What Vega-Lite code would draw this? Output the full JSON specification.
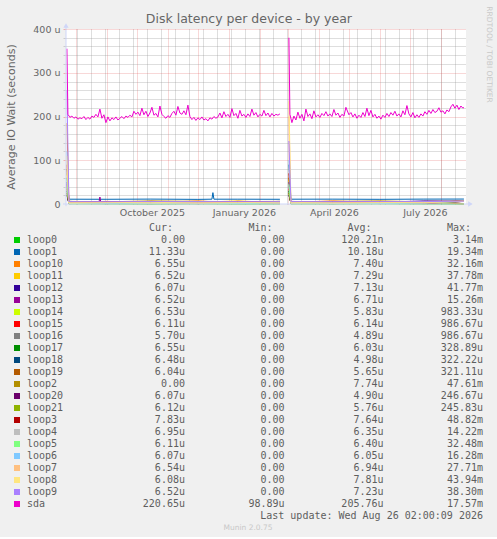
{
  "$schema": "https://vega.github.io/schema/vega-lite/v6.json",
  "background": "#f0f0f0",
  "padding": {"left": 5, "right": 5, "top": 5, "bottom": 3},
  "title": {"text": "Disk latency per device - by year", "fontSize": 12.5, "font": "DejaVu Sans", "fontWeight": "normal", "color": "#666666", "anchor": "middle", "offset": -20},
  "spacing": 5,
  "datasets": {
    "series": [
      {"s":"loop0","t":"2025-07-23","v":40},{"s":"loop0","t":"2025-07-25","v":0.5},{"s":"loop0","t":"2025-09-01","v":0.3},{"s":"loop0","t":"2025-10-15","v":0},{"s":"loop0","t":"2025-12-01","v":0.4},{"s":"loop0","t":"2026-01-10","v":0},{"s":"loop0","t":"2026-02-21","v":0.2},{"s":"loop0","t":"2026-02-25","v":null},{"s":"loop0","t":"2026-03-02","v":30},{"s":"loop0","t":"2026-03-04","v":0.3},{"s":"loop0","t":"2026-04-15","v":0.2},{"s":"loop0","t":"2026-06-01","v":0.5},{"s":"loop0","t":"2026-07-15","v":0.1},{"s":"loop0","t":"2026-08-24","v":0},
      {"s":"loop1","t":"2025-07-23","v":60},{"s":"loop1","t":"2025-07-25","v":11},{"s":"loop1","t":"2025-09-01","v":10.8},{"s":"loop1","t":"2025-10-15","v":11.2},{"s":"loop1","t":"2025-12-01","v":10.6},{"s":"loop1","t":"2025-12-15","v":11},{"s":"loop1","t":"2025-12-16","v":26},{"s":"loop1","t":"2025-12-17","v":11},{"s":"loop1","t":"2026-01-10","v":11},{"s":"loop1","t":"2026-02-21","v":10.8},{"s":"loop1","t":"2026-02-25","v":null},{"s":"loop1","t":"2026-03-02","v":90},{"s":"loop1","t":"2026-03-04","v":11},{"s":"loop1","t":"2026-04-15","v":11.1},{"s":"loop1","t":"2026-06-01","v":10.7},{"s":"loop1","t":"2026-07-15","v":11.2},{"s":"loop1","t":"2026-08-24","v":11.3},
      {"s":"loop10","t":"2025-07-23","v":185},{"s":"loop10","t":"2025-07-25","v":4},{"s":"loop10","t":"2025-09-01","v":6},{"s":"loop10","t":"2025-10-15","v":3},{"s":"loop10","t":"2025-12-01","v":7},{"s":"loop10","t":"2026-01-10","v":2},{"s":"loop10","t":"2026-02-21","v":5},{"s":"loop10","t":"2026-02-25","v":null},{"s":"loop10","t":"2026-03-02","v":60},{"s":"loop10","t":"2026-03-04","v":4},{"s":"loop10","t":"2026-04-15","v":7},{"s":"loop10","t":"2026-06-01","v":3},{"s":"loop10","t":"2026-07-15","v":6},{"s":"loop10","t":"2026-08-24","v":6.55},
      {"s":"loop11","t":"2025-07-23","v":70},{"s":"loop11","t":"2025-07-25","v":3},{"s":"loop11","t":"2025-09-01","v":2},{"s":"loop11","t":"2025-10-15","v":6},{"s":"loop11","t":"2025-12-01","v":4},{"s":"loop11","t":"2026-01-10","v":7},{"s":"loop11","t":"2026-02-21","v":3},{"s":"loop11","t":"2026-02-25","v":null},{"s":"loop11","t":"2026-03-02","v":55},{"s":"loop11","t":"2026-03-04","v":5},{"s":"loop11","t":"2026-04-15","v":3},{"s":"loop11","t":"2026-06-01","v":6},{"s":"loop11","t":"2026-07-15","v":4},{"s":"loop11","t":"2026-08-24","v":6.5},
      {"s":"loop12","t":"2025-07-23","v":50},{"s":"loop12","t":"2025-07-25","v":6},{"s":"loop12","t":"2025-09-01","v":3},{"s":"loop12","t":"2025-10-15","v":2},{"s":"loop12","t":"2025-12-01","v":5},{"s":"loop12","t":"2026-01-10","v":3},{"s":"loop12","t":"2026-02-21","v":6},{"s":"loop12","t":"2026-02-25","v":null},{"s":"loop12","t":"2026-03-02","v":50},{"s":"loop12","t":"2026-03-04","v":2},{"s":"loop12","t":"2026-04-15","v":5},{"s":"loop12","t":"2026-06-01","v":4},{"s":"loop12","t":"2026-07-15","v":7},{"s":"loop12","t":"2026-08-24","v":6.1},
      {"s":"loop13","t":"2025-07-23","v":45},{"s":"loop13","t":"2025-07-25","v":2},{"s":"loop13","t":"2025-08-24","v":3},{"s":"loop13","t":"2025-08-25","v":16},{"s":"loop13","t":"2025-08-26","v":3},{"s":"loop13","t":"2025-09-01","v":4},{"s":"loop13","t":"2025-10-15","v":6},{"s":"loop13","t":"2025-12-01","v":3},{"s":"loop13","t":"2026-01-10","v":5},{"s":"loop13","t":"2026-02-21","v":2},{"s":"loop13","t":"2026-02-25","v":null},{"s":"loop13","t":"2026-03-02","v":40},{"s":"loop13","t":"2026-03-04","v":6},{"s":"loop13","t":"2026-04-15","v":3},{"s":"loop13","t":"2026-06-01","v":5},{"s":"loop13","t":"2026-07-15","v":2},{"s":"loop13","t":"2026-08-24","v":6.5},
      {"s":"loop14","t":"2025-07-23","v":30},{"s":"loop14","t":"2025-07-25","v":1},{"s":"loop14","t":"2025-09-01","v":3},{"s":"loop14","t":"2025-10-15","v":2},{"s":"loop14","t":"2025-12-01","v":4},{"s":"loop14","t":"2026-01-10","v":1},{"s":"loop14","t":"2026-02-21","v":3},{"s":"loop14","t":"2026-02-25","v":null},{"s":"loop14","t":"2026-03-02","v":30},{"s":"loop14","t":"2026-03-04","v":2},{"s":"loop14","t":"2026-04-15","v":4},{"s":"loop14","t":"2026-06-01","v":1},{"s":"loop14","t":"2026-07-15","v":3},{"s":"loop14","t":"2026-08-24","v":6.5},
      {"s":"loop15","t":"2025-07-23","v":35},{"s":"loop15","t":"2025-07-25","v":3},{"s":"loop15","t":"2025-09-01","v":1},{"s":"loop15","t":"2025-10-15","v":4},{"s":"loop15","t":"2025-12-01","v":2},{"s":"loop15","t":"2026-01-10","v":3},{"s":"loop15","t":"2026-02-21","v":1},{"s":"loop15","t":"2026-02-25","v":null},{"s":"loop15","t":"2026-03-02","v":35},{"s":"loop15","t":"2026-03-04","v":3},{"s":"loop15","t":"2026-04-15","v":2},{"s":"loop15","t":"2026-06-01","v":4},{"s":"loop15","t":"2026-07-15","v":1},{"s":"loop15","t":"2026-08-24","v":6.1},
      {"s":"loop16","t":"2025-07-23","v":25},{"s":"loop16","t":"2025-07-25","v":1},{"s":"loop16","t":"2025-09-01","v":2},{"s":"loop16","t":"2025-10-15","v":1},{"s":"loop16","t":"2025-12-01","v":3},{"s":"loop16","t":"2026-01-10","v":2},{"s":"loop16","t":"2026-02-21","v":1},{"s":"loop16","t":"2026-02-25","v":null},{"s":"loop16","t":"2026-03-02","v":25},{"s":"loop16","t":"2026-03-04","v":1},{"s":"loop16","t":"2026-04-15","v":2},{"s":"loop16","t":"2026-06-01","v":3},{"s":"loop16","t":"2026-07-15","v":2},{"s":"loop16","t":"2026-08-24","v":5.7},
      {"s":"loop17","t":"2025-07-23","v":20},{"s":"loop17","t":"2025-07-25","v":2},{"s":"loop17","t":"2025-09-01","v":1},{"s":"loop17","t":"2025-10-15","v":3},{"s":"loop17","t":"2025-12-01","v":1},{"s":"loop17","t":"2026-01-10","v":2},{"s":"loop17","t":"2026-02-21","v":4},{"s":"loop17","t":"2026-02-25","v":null},{"s":"loop17","t":"2026-03-02","v":20},{"s":"loop17","t":"2026-03-04","v":3},{"s":"loop17","t":"2026-04-15","v":1},{"s":"loop17","t":"2026-06-01","v":2},{"s":"loop17","t":"2026-07-15","v":3},{"s":"loop17","t":"2026-08-24","v":6.5},
      {"s":"loop18","t":"2025-07-23","v":30},{"s":"loop18","t":"2025-07-25","v":4},{"s":"loop18","t":"2025-09-01","v":2},{"s":"loop18","t":"2025-10-15","v":5},{"s":"loop18","t":"2025-12-01","v":1},{"s":"loop18","t":"2026-01-10","v":3},{"s":"loop18","t":"2026-02-21","v":2},{"s":"loop18","t":"2026-02-25","v":null},{"s":"loop18","t":"2026-03-02","v":30},{"s":"loop18","t":"2026-03-04","v":2},{"s":"loop18","t":"2026-04-15","v":4},{"s":"loop18","t":"2026-06-01","v":1},{"s":"loop18","t":"2026-07-15","v":5},{"s":"loop18","t":"2026-08-24","v":6.5},
      {"s":"loop19","t":"2025-07-23","v":25},{"s":"loop19","t":"2025-07-25","v":2},{"s":"loop19","t":"2025-09-01","v":4},{"s":"loop19","t":"2025-10-15","v":1},{"s":"loop19","t":"2025-12-01","v":3},{"s":"loop19","t":"2026-01-10","v":5},{"s":"loop19","t":"2026-02-21","v":2},{"s":"loop19","t":"2026-02-25","v":null},{"s":"loop19","t":"2026-03-02","v":25},{"s":"loop19","t":"2026-03-04","v":4},{"s":"loop19","t":"2026-04-15","v":2},{"s":"loop19","t":"2026-06-01","v":3},{"s":"loop19","t":"2026-07-15","v":1},{"s":"loop19","t":"2026-08-24","v":6},
      {"s":"loop2","t":"2025-07-23","v":80},{"s":"loop2","t":"2025-07-25","v":6},{"s":"loop2","t":"2025-09-01","v":5},{"s":"loop2","t":"2025-10-15","v":7},{"s":"loop2","t":"2025-12-01","v":6},{"s":"loop2","t":"2026-01-10","v":5.5},{"s":"loop2","t":"2026-02-21","v":6},{"s":"loop2","t":"2026-02-25","v":null},{"s":"loop2","t":"2026-03-02","v":60},{"s":"loop2","t":"2026-03-04","v":5},{"s":"loop2","t":"2026-04-15","v":6},{"s":"loop2","t":"2026-06-01","v":7},{"s":"loop2","t":"2026-07-15","v":5},{"s":"loop2","t":"2026-08-24","v":0},
      {"s":"loop20","t":"2025-07-23","v":20},{"s":"loop20","t":"2025-07-25","v":1},{"s":"loop20","t":"2025-09-01","v":3},{"s":"loop20","t":"2025-10-15","v":2},{"s":"loop20","t":"2025-12-01","v":1},{"s":"loop20","t":"2026-01-10","v":3},{"s":"loop20","t":"2026-02-21","v":2},{"s":"loop20","t":"2026-02-25","v":null},{"s":"loop20","t":"2026-03-02","v":20},{"s":"loop20","t":"2026-03-04","v":2},{"s":"loop20","t":"2026-04-15","v":1},{"s":"loop20","t":"2026-06-01","v":3},{"s":"loop20","t":"2026-07-15","v":2},{"s":"loop20","t":"2026-08-24","v":6},
      {"s":"loop21","t":"2025-07-23","v":25},{"s":"loop21","t":"2025-07-25","v":3},{"s":"loop21","t":"2025-09-01","v":2},{"s":"loop21","t":"2025-10-15","v":1},{"s":"loop21","t":"2025-12-01","v":4},{"s":"loop21","t":"2026-01-10","v":2},{"s":"loop21","t":"2026-02-21","v":3},{"s":"loop21","t":"2026-02-25","v":null},{"s":"loop21","t":"2026-03-02","v":25},{"s":"loop21","t":"2026-03-04","v":1},{"s":"loop21","t":"2026-04-15","v":3},{"s":"loop21","t":"2026-06-01","v":2},{"s":"loop21","t":"2026-07-15","v":4},{"s":"loop21","t":"2026-08-24","v":6.1},
      {"s":"loop3","t":"2025-07-23","v":90},{"s":"loop3","t":"2025-07-25","v":3},{"s":"loop3","t":"2025-09-01","v":5},{"s":"loop3","t":"2025-10-15","v":4},{"s":"loop3","t":"2025-12-01","v":2},{"s":"loop3","t":"2026-01-10","v":6},{"s":"loop3","t":"2026-02-21","v":4},{"s":"loop3","t":"2026-02-25","v":null},{"s":"loop3","t":"2026-03-02","v":70},{"s":"loop3","t":"2026-03-04","v":3},{"s":"loop3","t":"2026-04-15","v":5},{"s":"loop3","t":"2026-06-01","v":4},{"s":"loop3","t":"2026-07-15","v":2},{"s":"loop3","t":"2026-08-24","v":7.8},
      {"s":"loop4","t":"2025-07-23","v":40},{"s":"loop4","t":"2025-07-25","v":2},{"s":"loop4","t":"2025-09-01","v":3},{"s":"loop4","t":"2025-10-15","v":5},{"s":"loop4","t":"2025-12-01","v":3},{"s":"loop4","t":"2026-01-10","v":2},{"s":"loop4","t":"2026-02-21","v":4},{"s":"loop4","t":"2026-02-25","v":null},{"s":"loop4","t":"2026-03-02","v":40},{"s":"loop4","t":"2026-03-04","v":4},{"s":"loop4","t":"2026-04-15","v":2},{"s":"loop4","t":"2026-06-01","v":3},{"s":"loop4","t":"2026-07-15","v":5},{"s":"loop4","t":"2026-08-24","v":7},
      {"s":"loop5","t":"2025-07-23","v":60},{"s":"loop5","t":"2025-07-25","v":1},{"s":"loop5","t":"2025-09-01","v":2},{"s":"loop5","t":"2025-10-15","v":1},{"s":"loop5","t":"2025-12-01","v":2},{"s":"loop5","t":"2026-01-10","v":1},{"s":"loop5","t":"2026-02-21","v":2},{"s":"loop5","t":"2026-02-25","v":null},{"s":"loop5","t":"2026-03-02","v":45},{"s":"loop5","t":"2026-03-04","v":1},{"s":"loop5","t":"2026-04-15","v":2},{"s":"loop5","t":"2026-06-01","v":1},{"s":"loop5","t":"2026-07-15","v":2},{"s":"loop5","t":"2026-08-24","v":6.1},
      {"s":"loop6","t":"2025-07-23","v":120},{"s":"loop6","t":"2025-07-25","v":4},{"s":"loop6","t":"2025-09-01","v":2},{"s":"loop6","t":"2025-10-15","v":3},{"s":"loop6","t":"2025-12-01","v":5},{"s":"loop6","t":"2026-01-10","v":2},{"s":"loop6","t":"2026-02-21","v":4},{"s":"loop6","t":"2026-02-25","v":null},{"s":"loop6","t":"2026-03-02","v":100},{"s":"loop6","t":"2026-03-04","v":3},{"s":"loop6","t":"2026-04-15","v":4},{"s":"loop6","t":"2026-06-01","v":2},{"s":"loop6","t":"2026-07-15","v":3},{"s":"loop6","t":"2026-08-24","v":6.1},
      {"s":"loop7","t":"2025-07-23","v":100},{"s":"loop7","t":"2025-07-25","v":3},{"s":"loop7","t":"2025-09-01","v":4},{"s":"loop7","t":"2025-10-15","v":2},{"s":"loop7","t":"2025-12-01","v":3},{"s":"loop7","t":"2026-01-10","v":4},{"s":"loop7","t":"2026-02-21","v":2},{"s":"loop7","t":"2026-02-25","v":null},{"s":"loop7","t":"2026-03-02","v":200},{"s":"loop7","t":"2026-03-04","v":2},{"s":"loop7","t":"2026-04-15","v":3},{"s":"loop7","t":"2026-06-01","v":4},{"s":"loop7","t":"2026-07-15","v":3},{"s":"loop7","t":"2026-08-24","v":6.5},
      {"s":"loop8","t":"2025-07-23","v":110},{"s":"loop8","t":"2025-07-25","v":2},{"s":"loop8","t":"2025-09-01","v":3},{"s":"loop8","t":"2025-10-15","v":4},{"s":"loop8","t":"2025-12-01","v":2},{"s":"loop8","t":"2026-01-10","v":3},{"s":"loop8","t":"2026-02-21","v":4},{"s":"loop8","t":"2026-02-25","v":null},{"s":"loop8","t":"2026-03-02","v":235},{"s":"loop8","t":"2026-03-04","v":4},{"s":"loop8","t":"2026-04-15","v":2},{"s":"loop8","t":"2026-06-01","v":3},{"s":"loop8","t":"2026-07-15","v":4},{"s":"loop8","t":"2026-08-24","v":6.1},
      {"s":"loop9","t":"2025-07-23","v":260},{"s":"loop9","t":"2025-07-25","v":5.5},{"s":"loop9","t":"2025-09-01","v":5.3},{"s":"loop9","t":"2025-10-15","v":5.6},{"s":"loop9","t":"2025-12-01","v":5.4},{"s":"loop9","t":"2026-01-10","v":5.5},{"s":"loop9","t":"2026-02-21","v":5.3},{"s":"loop9","t":"2026-02-25","v":null},{"s":"loop9","t":"2026-03-02","v":144},{"s":"loop9","t":"2026-03-04","v":5.5},{"s":"loop9","t":"2026-04-15","v":5.4},{"s":"loop9","t":"2026-06-01","v":5.6},{"s":"loop9","t":"2026-07-15","v":5.5},{"s":"loop9","t":"2026-08-24","v":6.5},
      {"s":"sda","t":"2025-07-23","v":355},{"s":"sda","t":"2025-07-24","v":205},{"s":"sda","t":"2025-07-26","v":198},{"s":"sda","t":"2025-07-28","v":201},{"s":"sda","t":"2025-07-30","v":196},
      {"s":"sda","t":"2025-08-01","v":199},{"s":"sda","t":"2025-08-03","v":194},{"s":"sda","t":"2025-08-05","v":197},{"s":"sda","t":"2025-08-07","v":195},{"s":"sda","t":"2025-08-09","v":200},{"s":"sda","t":"2025-08-11","v":193},{"s":"sda","t":"2025-08-13","v":198},{"s":"sda","t":"2025-08-15","v":194},{"s":"sda","t":"2025-08-17","v":201},{"s":"sda","t":"2025-08-19","v":198},{"s":"sda","t":"2025-08-21","v":205},{"s":"sda","t":"2025-08-23","v":199},{"s":"sda","t":"2025-08-25","v":217},{"s":"sda","t":"2025-08-27","v":196},{"s":"sda","t":"2025-08-29","v":204},{"s":"sda","t":"2025-08-31","v":186},
      {"s":"sda","t":"2025-09-02","v":199},{"s":"sda","t":"2025-09-04","v":190},{"s":"sda","t":"2025-09-06","v":197},{"s":"sda","t":"2025-09-08","v":193},{"s":"sda","t":"2025-09-10","v":199},{"s":"sda","t":"2025-09-12","v":192},{"s":"sda","t":"2025-09-14","v":196},{"s":"sda","t":"2025-09-16","v":200},{"s":"sda","t":"2025-09-18","v":195},{"s":"sda","t":"2025-09-20","v":201},{"s":"sda","t":"2025-09-22","v":198},{"s":"sda","t":"2025-09-24","v":203},{"s":"sda","t":"2025-09-26","v":199},{"s":"sda","t":"2025-09-28","v":212},{"s":"sda","t":"2025-09-30","v":205},
      {"s":"sda","t":"2025-10-02","v":210},{"s":"sda","t":"2025-10-04","v":202},{"s":"sda","t":"2025-10-06","v":219},{"s":"sda","t":"2025-10-08","v":204},{"s":"sda","t":"2025-10-10","v":212},{"s":"sda","t":"2025-10-12","v":200},{"s":"sda","t":"2025-10-14","v":208},{"s":"sda","t":"2025-10-16","v":221},{"s":"sda","t":"2025-10-18","v":203},{"s":"sda","t":"2025-10-20","v":207},{"s":"sda","t":"2025-10-22","v":199},{"s":"sda","t":"2025-10-24","v":224},{"s":"sda","t":"2025-10-26","v":205},{"s":"sda","t":"2025-10-28","v":200},{"s":"sda","t":"2025-10-30","v":196},
      {"s":"sda","t":"2025-11-01","v":202},{"s":"sda","t":"2025-11-03","v":198},{"s":"sda","t":"2025-11-05","v":207},{"s":"sda","t":"2025-11-07","v":212},{"s":"sda","t":"2025-11-09","v":203},{"s":"sda","t":"2025-11-11","v":223},{"s":"sda","t":"2025-11-13","v":208},{"s":"sda","t":"2025-11-15","v":205},{"s":"sda","t":"2025-11-17","v":213},{"s":"sda","t":"2025-11-19","v":204},{"s":"sda","t":"2025-11-21","v":226},{"s":"sda","t":"2025-11-23","v":200},{"s":"sda","t":"2025-11-25","v":193},{"s":"sda","t":"2025-11-27","v":198},{"s":"sda","t":"2025-11-29","v":191},
      {"s":"sda","t":"2025-12-01","v":197},{"s":"sda","t":"2025-12-03","v":193},{"s":"sda","t":"2025-12-05","v":199},{"s":"sda","t":"2025-12-07","v":192},{"s":"sda","t":"2025-12-09","v":195},{"s":"sda","t":"2025-12-11","v":190},{"s":"sda","t":"2025-12-13","v":197},{"s":"sda","t":"2025-12-15","v":194},{"s":"sda","t":"2025-12-17","v":200},{"s":"sda","t":"2025-12-19","v":196},{"s":"sda","t":"2025-12-21","v":199},{"s":"sda","t":"2025-12-23","v":208},{"s":"sda","t":"2025-12-25","v":197},{"s":"sda","t":"2025-12-27","v":211},{"s":"sda","t":"2025-12-29","v":200},{"s":"sda","t":"2025-12-31","v":205},
      {"s":"sda","t":"2026-01-02","v":198},{"s":"sda","t":"2026-01-04","v":218},{"s":"sda","t":"2026-01-06","v":202},{"s":"sda","t":"2026-01-08","v":207},{"s":"sda","t":"2026-01-10","v":196},{"s":"sda","t":"2026-01-12","v":214},{"s":"sda","t":"2026-01-14","v":201},{"s":"sda","t":"2026-01-16","v":205},{"s":"sda","t":"2026-01-18","v":198},{"s":"sda","t":"2026-01-20","v":206},{"s":"sda","t":"2026-01-22","v":200},{"s":"sda","t":"2026-01-24","v":217},{"s":"sda","t":"2026-01-26","v":203},{"s":"sda","t":"2026-01-28","v":209},{"s":"sda","t":"2026-01-30","v":199},
      {"s":"sda","t":"2026-02-01","v":205},{"s":"sda","t":"2026-02-03","v":201},{"s":"sda","t":"2026-02-05","v":214},{"s":"sda","t":"2026-02-07","v":202},{"s":"sda","t":"2026-02-09","v":208},{"s":"sda","t":"2026-02-11","v":199},{"s":"sda","t":"2026-02-13","v":207},{"s":"sda","t":"2026-02-15","v":201},{"s":"sda","t":"2026-02-17","v":205},{"s":"sda","t":"2026-02-19","v":203},{"s":"sda","t":"2026-02-21","v":206},{"s":"sda","t":"2026-02-25","v":null},
      {"s":"sda","t":"2026-03-02","v":380},{"s":"sda","t":"2026-03-03","v":205},{"s":"sda","t":"2026-03-05","v":186},{"s":"sda","t":"2026-03-07","v":201},{"s":"sda","t":"2026-03-09","v":192},{"s":"sda","t":"2026-03-11","v":210},{"s":"sda","t":"2026-03-13","v":196},{"s":"sda","t":"2026-03-15","v":205},{"s":"sda","t":"2026-03-17","v":190},{"s":"sda","t":"2026-03-19","v":217},{"s":"sda","t":"2026-03-21","v":200},{"s":"sda","t":"2026-03-23","v":206},{"s":"sda","t":"2026-03-25","v":195},{"s":"sda","t":"2026-03-27","v":213},{"s":"sda","t":"2026-03-29","v":199},{"s":"sda","t":"2026-03-31","v":204},
      {"s":"sda","t":"2026-04-02","v":198},{"s":"sda","t":"2026-04-04","v":207},{"s":"sda","t":"2026-04-06","v":202},{"s":"sda","t":"2026-04-08","v":211},{"s":"sda","t":"2026-04-10","v":201},{"s":"sda","t":"2026-04-12","v":206},{"s":"sda","t":"2026-04-14","v":200},{"s":"sda","t":"2026-04-16","v":216},{"s":"sda","t":"2026-04-18","v":203},{"s":"sda","t":"2026-04-20","v":208},{"s":"sda","t":"2026-04-22","v":198},{"s":"sda","t":"2026-04-24","v":205},{"s":"sda","t":"2026-04-26","v":201},{"s":"sda","t":"2026-04-28","v":221},
      {"s":"sda","t":"2026-05-01","v":204},{"s":"sda","t":"2026-05-03","v":209},{"s":"sda","t":"2026-05-05","v":199},{"s":"sda","t":"2026-05-07","v":206},{"s":"sda","t":"2026-05-09","v":196},{"s":"sda","t":"2026-05-11","v":203},{"s":"sda","t":"2026-05-13","v":198},{"s":"sda","t":"2026-05-15","v":209},{"s":"sda","t":"2026-05-17","v":200},{"s":"sda","t":"2026-05-19","v":219},{"s":"sda","t":"2026-05-21","v":202},{"s":"sda","t":"2026-05-23","v":214},{"s":"sda","t":"2026-05-25","v":199},{"s":"sda","t":"2026-05-27","v":205},{"s":"sda","t":"2026-05-29","v":196},{"s":"sda","t":"2026-05-31","v":201},
      {"s":"sda","t":"2026-06-02","v":194},{"s":"sda","t":"2026-06-04","v":203},{"s":"sda","t":"2026-06-06","v":198},{"s":"sda","t":"2026-06-08","v":207},{"s":"sda","t":"2026-06-10","v":200},{"s":"sda","t":"2026-06-12","v":209},{"s":"sda","t":"2026-06-14","v":203},{"s":"sda","t":"2026-06-16","v":212},{"s":"sda","t":"2026-06-18","v":201},{"s":"sda","t":"2026-06-20","v":206},{"s":"sda","t":"2026-06-22","v":199},{"s":"sda","t":"2026-06-24","v":213},{"s":"sda","t":"2026-06-26","v":204},{"s":"sda","t":"2026-06-28","v":225},{"s":"sda","t":"2026-06-30","v":206},
      {"s":"sda","t":"2026-07-02","v":199},{"s":"sda","t":"2026-07-04","v":209},{"s":"sda","t":"2026-07-06","v":197},{"s":"sda","t":"2026-07-08","v":204},{"s":"sda","t":"2026-07-10","v":198},{"s":"sda","t":"2026-07-12","v":206},{"s":"sda","t":"2026-07-14","v":201},{"s":"sda","t":"2026-07-16","v":211},{"s":"sda","t":"2026-07-18","v":205},{"s":"sda","t":"2026-07-20","v":214},{"s":"sda","t":"2026-07-22","v":207},{"s":"sda","t":"2026-07-24","v":216},{"s":"sda","t":"2026-07-26","v":209},{"s":"sda","t":"2026-07-28","v":212},{"s":"sda","t":"2026-07-30","v":220},
      {"s":"sda","t":"2026-08-01","v":210},{"s":"sda","t":"2026-08-03","v":213},{"s":"sda","t":"2026-08-05","v":206},{"s":"sda","t":"2026-08-07","v":215},{"s":"sda","t":"2026-08-09","v":211},{"s":"sda","t":"2026-08-11","v":222},{"s":"sda","t":"2026-08-13","v":228},{"s":"sda","t":"2026-08-15","v":219},{"s":"sda","t":"2026-08-17","v":226},{"s":"sda","t":"2026-08-19","v":216},{"s":"sda","t":"2026-08-21","v":224},{"s":"sda","t":"2026-08-23","v":219},{"s":"sda","t":"2026-08-24","v":221}
    ],
    "legend": [
      {"s":"loop0","cur":"0.00\u00a0","min":"0.00\u00a0","avg":"120.21n","max":"3.14m"},
      {"s":"loop1","cur":"11.33u","min":"0.00\u00a0","avg":"10.18u","max":"19.34m"},
      {"s":"loop10","cur":"6.55u","min":"0.00\u00a0","avg":"7.40u","max":"32.16m"},
      {"s":"loop11","cur":"6.52u","min":"0.00\u00a0","avg":"7.29u","max":"37.78m"},
      {"s":"loop12","cur":"6.07u","min":"0.00\u00a0","avg":"7.13u","max":"41.77m"},
      {"s":"loop13","cur":"6.52u","min":"0.00\u00a0","avg":"6.71u","max":"15.26m"},
      {"s":"loop14","cur":"6.53u","min":"0.00\u00a0","avg":"5.83u","max":"983.33u"},
      {"s":"loop15","cur":"6.11u","min":"0.00\u00a0","avg":"6.14u","max":"986.67u"},
      {"s":"loop16","cur":"5.70u","min":"0.00\u00a0","avg":"4.89u","max":"986.67u"},
      {"s":"loop17","cur":"6.55u","min":"0.00\u00a0","avg":"6.03u","max":"328.89u"},
      {"s":"loop18","cur":"6.48u","min":"0.00\u00a0","avg":"4.98u","max":"322.22u"},
      {"s":"loop19","cur":"6.04u","min":"0.00\u00a0","avg":"5.65u","max":"321.11u"},
      {"s":"loop2","cur":"0.00\u00a0","min":"0.00\u00a0","avg":"7.74u","max":"47.61m"},
      {"s":"loop20","cur":"6.07u","min":"0.00\u00a0","avg":"4.90u","max":"246.67u"},
      {"s":"loop21","cur":"6.12u","min":"0.00\u00a0","avg":"5.76u","max":"245.83u"},
      {"s":"loop3","cur":"7.83u","min":"0.00\u00a0","avg":"7.64u","max":"48.82m"},
      {"s":"loop4","cur":"6.95u","min":"0.00\u00a0","avg":"6.35u","max":"14.22m"},
      {"s":"loop5","cur":"6.11u","min":"0.00\u00a0","avg":"6.40u","max":"32.48m"},
      {"s":"loop6","cur":"6.07u","min":"0.00\u00a0","avg":"6.05u","max":"16.28m"},
      {"s":"loop7","cur":"6.54u","min":"0.00\u00a0","avg":"6.94u","max":"27.71m"},
      {"s":"loop8","cur":"6.08u","min":"0.00\u00a0","avg":"7.81u","max":"43.94m"},
      {"s":"loop9","cur":"6.52u","min":"0.00\u00a0","avg":"7.23u","max":"38.30m"},
      {"s":"sda","cur":"220.65u","min":"98.89u","avg":"205.76u","max":"17.57m"}
    ]
  },
  "vconcat": [
    {
      "width": 400,
      "height": 175,
      "view": {"fill": "#ffffff", "stroke": null},
      "resolve": {"axis": {"x": "independent", "y": "independent"}},
      "layer": [
        {
          "data": {"name": "series"},
          "mark": {"type": "line", "strokeWidth": 1, "invalid": "break-paths-filter-domains"},
          "encoding": {
            "x": {"field": "t", "type": "temporal",
              "scale": {"domain": [{"year": 2025, "month": 7, "date": 22, "hours": 2, "utc": true}, {"year": 2026, "month": 8, "date": 26, "hours": 2, "utc": true}]},
              "axis": {"orient": "bottom", "title": null, "labels": false, "ticks": false, "domain": false, "grid": true, "gridColor": "#8f8f8f", "gridOpacity": 0.6, "gridDash": [1, 1],
                "values": [
                  {"year": 2025, "month": 8, "date": 2, "utc": true}, {"year": 2025, "month": 8, "date": 16, "utc": true}, {"year": 2025, "month": 8, "date": 30, "utc": true},
                  {"year": 2025, "month": 9, "date": 13, "utc": true}, {"year": 2025, "month": 9, "date": 27, "utc": true}, {"year": 2025, "month": 10, "date": 11, "utc": true},
                  {"year": 2025, "month": 10, "date": 25, "utc": true}, {"year": 2025, "month": 11, "date": 8, "utc": true}, {"year": 2025, "month": 11, "date": 22, "utc": true},
                  {"year": 2025, "month": 12, "date": 6, "utc": true}, {"year": 2025, "month": 12, "date": 20, "utc": true}, {"year": 2026, "month": 1, "date": 3, "utc": true},
                  {"year": 2026, "month": 1, "date": 17, "utc": true}, {"year": 2026, "month": 1, "date": 31, "utc": true}, {"year": 2026, "month": 2, "date": 14, "utc": true},
                  {"year": 2026, "month": 2, "date": 28, "utc": true}, {"year": 2026, "month": 3, "date": 14, "utc": true}, {"year": 2026, "month": 3, "date": 28, "utc": true},
                  {"year": 2026, "month": 4, "date": 11, "utc": true}, {"year": 2026, "month": 4, "date": 25, "utc": true}, {"year": 2026, "month": 5, "date": 9, "utc": true},
                  {"year": 2026, "month": 5, "date": 23, "utc": true}, {"year": 2026, "month": 6, "date": 6, "utc": true}, {"year": 2026, "month": 6, "date": 20, "utc": true},
                  {"year": 2026, "month": 7, "date": 4, "utc": true}, {"year": 2026, "month": 7, "date": 18, "utc": true}, {"year": 2026, "month": 8, "date": 1, "utc": true},
                  {"year": 2026, "month": 8, "date": 15, "utc": true}
                ]}},
            "y": {"field": "v", "type": "quantitative",
              "scale": {"domain": [0, 400], "nice": false},
              "axis": {"orient": "left", "title": null, "labels": false, "ticks": true, "tickSize": 3, "tickColor": "#cccccc", "domain": false, "grid": true, "gridColor": "#8f8f8f", "gridOpacity": 0.6, "gridDash": [1, 1],
                "values": [20, 40, 60, 80, 120, 140, 160, 180, 220, 240, 260, 280, 320, 340, 360, 380]}},
            "color": {"field": "s", "type": "nominal", "legend": null,
              "scale": {"domain": ["loop0","loop1","loop10","loop11","loop12","loop13","loop14","loop15","loop16","loop17","loop18","loop19","loop2","loop20","loop21","loop3","loop4","loop5","loop6","loop7","loop8","loop9","sda"],
                "range": ["#00cc00","#0066b3","#ff8000","#ffcc00","#330099","#990099","#ccff00","#ff0000","#808080","#008f00","#00487d","#b35a00","#b38f00","#6b006b","#8fb300","#b30000","#bebebe","#80ff80","#80c9ff","#ffc080","#ffe680","#aa80ff","#ee00cc"]}}
          }
        },
        {
          "data": {"values": []},
          "mark": "rule",
          "encoding": {
            "x": {"field": "t", "type": "temporal",
              "axis": {"orient": "bottom", "title": null, "labels": false, "ticks": false, "domain": false, "grid": true, "gridColor": "#de4f4f", "gridOpacity": 0.45, "gridDash": [1, 1],
                "values": [
                  {"year": 2025, "month": 8, "date": 1, "utc": true}, {"year": 2025, "month": 9, "date": 1, "utc": true}, {"year": 2025, "month": 10, "date": 1, "utc": true},
                  {"year": 2025, "month": 11, "date": 1, "utc": true}, {"year": 2025, "month": 12, "date": 1, "utc": true}, {"year": 2026, "month": 1, "date": 1, "utc": true},
                  {"year": 2026, "month": 2, "date": 1, "utc": true}, {"year": 2026, "month": 3, "date": 1, "utc": true}, {"year": 2026, "month": 4, "date": 1, "utc": true},
                  {"year": 2026, "month": 5, "date": 1, "utc": true}, {"year": 2026, "month": 6, "date": 1, "utc": true}, {"year": 2026, "month": 7, "date": 1, "utc": true},
                  {"year": 2026, "month": 8, "date": 1, "utc": true}
                ]}},
            "y": {"field": "v", "type": "quantitative",
              "axis": {"orient": "left", "title": null, "labels": false, "ticks": true, "tickSize": 3, "tickColor": "#eeb0b0", "domain": false, "grid": true, "gridColor": "#de4f4f", "gridOpacity": 0.45, "gridDash": [1, 1],
                "values": [100, 200, 300, 400]}}
          }
        },
        {
          "data": {"values": []},
          "mark": "rule",
          "encoding": {
            "x": {"field": "t", "type": "temporal",
              "axis": {"orient": "bottom", "title": null, "format": "%B %Y", "ticks": false, "domain": false, "grid": false, "labelPadding": 3, "labelFontSize": 9.5, "labelColor": "#666666", "labelOverlap": false, "labelFlush": false,
                "values": [
                  {"year": 2025, "month": 10, "date": 16, "utc": true}, {"year": 2026, "month": 1, "date": 16, "utc": true},
                  {"year": 2026, "month": 4, "date": 16, "utc": true}, {"year": 2026, "month": 7, "date": 16, "utc": true}
                ]}},
            "y": {"field": "v", "type": "quantitative",
              "axis": {"orient": "left", "title": "Average IO Wait (seconds)", "titleFontSize": 11, "titleFontWeight": "normal", "titleColor": "#666666", "titlePadding": 16,
                "labelExpr": "datum.value == 0 ? '0' : datum.value + ' u'", "ticks": false, "domain": false, "grid": false, "labelPadding": 6, "labelFontSize": 9.5, "labelColor": "#666666", "labelFlush": false,
                "values": [0, 100, 200, 300, 400]}}
          }
        },
        {
          "data": {"values": []},
          "mark": "rule",
          "encoding": {
            "y": {"field": "v", "type": "quantitative",
              "axis": {"orient": "right", "title": "RRDTOOL / TOBI OETIKER", "labels": false, "ticks": false, "domain": false, "grid": false,
                "titleFontSize": 7.5, "titleFontWeight": "normal", "titleColor": "#c8c8c8", "titleAngle": 90, "titleAlign": "center", "titleBaseline": "middle", "titleX": 22, "titleY": 25}}
          }
        },
        {
          "data": {"values": [{}]},
          "mark": {"type": "rule", "color": "#cfd6f8", "strokeWidth": 1},
          "encoding": {
            "x": {"datum": {"year": 2025, "month": 7, "date": 22, "hours": 2, "utc": true}, "type": "temporal", "axis": null},
            "y": {"datum": -5, "type": "quantitative", "axis": null},
            "y2": {"datum": 405}
          }
        },
        {
          "data": {"values": [{}]},
          "mark": {"type": "rule", "color": "#cfd6f8", "strokeWidth": 1},
          "encoding": {
            "x": {"datum": {"year": 2025, "month": 7, "date": 19, "hours": 2, "utc": true}, "type": "temporal", "axis": null},
            "x2": {"datum": {"year": 2026, "month": 8, "date": 29, "utc": true}},
            "y": {"datum": 0, "type": "quantitative", "axis": null}
          }
        },
        {
          "data": {"values": [{}]},
          "mark": {"type": "point", "shape": "triangle-up", "filled": true, "size": 28, "color": "#cfd6f8", "opacity": 1},
          "encoding": {
            "x": {"datum": {"year": 2025, "month": 7, "date": 22, "hours": 2, "utc": true}, "type": "temporal", "axis": null},
            "y": {"datum": 408, "type": "quantitative", "axis": null}
          }
        },
        {
          "data": {"values": [{}]},
          "mark": {"type": "point", "shape": "triangle-right", "filled": true, "size": 28, "color": "#cfd6f8", "opacity": 1},
          "encoding": {
            "x": {"datum": {"year": 2026, "month": 8, "date": 30, "hours": 12, "utc": true}, "type": "temporal", "axis": null},
            "y": {"datum": 0, "type": "quantitative", "axis": null}
          }
        }
      ]
    },
    {
      "width": 402,
      "height": {"step": 12},
      "data": {"name": "legend"},
      "encoding": {
        "y": {"field": "s", "type": "nominal", "axis": null,
          "scale": {"type": "point", "padding": 0.5, "domain": ["hdr","loop0","loop1","loop10","loop11","loop12","loop13","loop14","loop15","loop16","loop17","loop18","loop19","loop2","loop20","loop21","loop3","loop4","loop5","loop6","loop7","loop8","loop9","sda","upd","munin"]}}
      },
      "layer": [
        {
          "mark": {"type": "point", "shape": "square", "filled": true, "size": 36, "opacity": 1},
          "encoding": {
            "x": {"datum": -8.17, "type": "quantitative", "scale": {"domain": [0, 67], "nice": false, "zero": false}, "axis": null},
            "color": {"field": "s", "type": "nominal", "legend": null}
          }
        },
        {
          "mark": {"type": "text", "align": "left", "baseline": "middle", "font": "DejaVu Sans Mono", "fontSize": 10, "color": "#5e5e5e"},
          "encoding": {"x": {"datum": -6.5, "type": "quantitative", "axis": null}, "text": {"field": "s"}}
        },
        {
          "mark": {"type": "text", "align": "right", "baseline": "middle", "font": "DejaVu Sans Mono", "fontSize": 10, "color": "#5e5e5e"},
          "encoding": {"x": {"datum": 19.83, "type": "quantitative", "axis": null}, "text": {"field": "cur"}}
        },
        {
          "mark": {"type": "text", "align": "right", "baseline": "middle", "font": "DejaVu Sans Mono", "fontSize": 10, "color": "#5e5e5e"},
          "encoding": {"x": {"datum": 36.42, "type": "quantitative", "axis": null}, "text": {"field": "min"}}
        },
        {
          "mark": {"type": "text", "align": "right", "baseline": "middle", "font": "DejaVu Sans Mono", "fontSize": 10, "color": "#5e5e5e"},
          "encoding": {"x": {"datum": 52.92, "type": "quantitative", "axis": null}, "text": {"field": "avg"}}
        },
        {
          "mark": {"type": "text", "align": "right", "baseline": "middle", "font": "DejaVu Sans Mono", "fontSize": 10, "color": "#5e5e5e"},
          "encoding": {"x": {"datum": 69.5, "type": "quantitative", "axis": null}, "text": {"field": "max"}}
        },
        {
          "data": {"values": [{"h": "Cur:"}]},
          "mark": {"type": "text", "align": "right", "baseline": "middle", "font": "DejaVu Sans Mono", "fontSize": 10, "color": "#5e5e5e", "dx": -12},
          "encoding": {"x": {"datum": 19.83, "type": "quantitative", "axis": null}, "y": {"datum": "hdr", "type": "nominal"}, "text": {"field": "h"}}
        },
        {
          "data": {"values": [{"h": "Min:"}]},
          "mark": {"type": "text", "align": "right", "baseline": "middle", "font": "DejaVu Sans Mono", "fontSize": 10, "color": "#5e5e5e", "dx": -12},
          "encoding": {"x": {"datum": 36.42, "type": "quantitative", "axis": null}, "y": {"datum": "hdr", "type": "nominal"}, "text": {"field": "h"}}
        },
        {
          "data": {"values": [{"h": "Avg:"}]},
          "mark": {"type": "text", "align": "right", "baseline": "middle", "font": "DejaVu Sans Mono", "fontSize": 10, "color": "#5e5e5e", "dx": -12},
          "encoding": {"x": {"datum": 52.92, "type": "quantitative", "axis": null}, "y": {"datum": "hdr", "type": "nominal"}, "text": {"field": "h"}}
        },
        {
          "data": {"values": [{"h": "Max:"}]},
          "mark": {"type": "text", "align": "right", "baseline": "middle", "font": "DejaVu Sans Mono", "fontSize": 10, "color": "#5e5e5e", "dx": -12},
          "encoding": {"x": {"datum": 69.5, "type": "quantitative", "axis": null}, "y": {"datum": "hdr", "type": "nominal"}, "text": {"field": "h"}}
        },
        {
          "data": {"values": [{"h": "Last update: Wed Aug 26 02:00:09 2026"}]},
          "mark": {"type": "text", "align": "right", "baseline": "middle", "font": "DejaVu Sans Mono", "fontSize": 10, "color": "#5e5e5e"},
          "encoding": {"x": {"datum": 69.5, "type": "quantitative", "axis": null}, "y": {"datum": "upd", "type": "nominal"}, "text": {"field": "h"}}
        },
        {
          "data": {"values": [{"h": "Munin 2.0.75"}]},
          "mark": {"type": "text", "align": "center", "baseline": "middle", "font": "DejaVu Sans", "fontSize": 7.5, "color": "#c8c8c8"},
          "encoding": {"x": {"datum": 30.33, "type": "quantitative", "axis": null}, "y": {"datum": "munin", "type": "nominal"}, "text": {"field": "h"}}
        }
      ]
    }
  ],
  "config": {
    "font": "DejaVu Sans",
    "view": {"stroke": null},
    "axis": {"labelFont": "DejaVu Sans", "titleFont": "DejaVu Sans"}
  }
}
